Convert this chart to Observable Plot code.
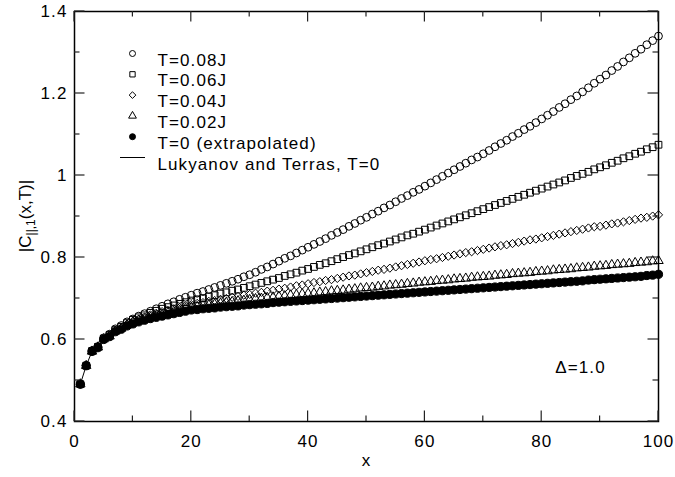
<!DOCTYPE html>
<html>
<head>
<meta charset="utf-8">
<script src="https://cdn.jsdelivr.net/npm/d3@7"></script>
<script src="https://cdn.jsdelivr.net/npm/@observablehq/plot@0.6"></script>
<style>
  html, body { margin: 0; padding: 0; background: white; }
</style>
</head>
<body>
<div id="chart"></div>
<script>
// sample positions x = 1..100
const xValues = Array.from({length: 100}, (_, i) => i + 1);

const valuesT008 = [
  0.491,0.537,0.573,0.583,0.604,0.613,0.626,0.634,0.643,0.650,
  0.657,0.663,0.669,0.675,0.681,0.687,0.692,0.698,0.703,0.708,
  0.713,0.717,0.722,0.727,0.732,0.737,0.742,0.747,0.753,0.758,
  0.764,0.771,0.777,0.784,0.791,0.798,0.804,0.811,0.818,0.825,
  0.832,0.839,0.846,0.854,0.861,0.868,0.876,0.883,0.891,0.898,
  0.906,0.913,0.921,0.928,0.936,0.944,0.951,0.959,0.966,0.974,
  0.982,0.990,0.998,1.006,1.014,1.022,1.030,1.038,1.045,1.053,
  1.061,1.070,1.078,1.086,1.095,1.103,1.112,1.120,1.129,1.138,
  1.147,1.156,1.166,1.175,1.185,1.194,1.204,1.214,1.225,1.235,
  1.245,1.256,1.266,1.277,1.287,1.298,1.308,1.319,1.329,1.340
];
const valuesT006 = [
  0.491,0.536,0.572,0.582,0.602,0.611,0.623,0.631,0.640,0.648,
  0.654,0.659,0.665,0.670,0.675,0.679,0.683,0.687,0.691,0.695,
  0.698,0.701,0.705,0.708,0.712,0.715,0.719,0.722,0.726,0.730,
  0.734,0.738,0.742,0.746,0.750,0.755,0.759,0.763,0.768,0.772,
  0.777,0.782,0.786,0.791,0.796,0.801,0.806,0.810,0.815,0.820,
  0.825,0.830,0.834,0.839,0.844,0.849,0.854,0.858,0.863,0.868,
  0.873,0.878,0.883,0.888,0.893,0.898,0.903,0.908,0.913,0.918,
  0.923,0.928,0.933,0.938,0.943,0.948,0.953,0.958,0.963,0.968,
  0.973,0.978,0.983,0.988,0.994,0.999,1.004,1.009,1.015,1.020,
  1.025,1.031,1.036,1.042,1.047,1.053,1.058,1.064,1.069,1.075
];
const valuesT004 = [
  0.491,0.536,0.571,0.581,0.601,0.609,0.621,0.628,0.637,0.645,
  0.650,0.655,0.660,0.664,0.668,0.671,0.675,0.678,0.682,0.685,
  0.688,0.690,0.693,0.695,0.698,0.700,0.703,0.705,0.708,0.710,
  0.713,0.715,0.718,0.720,0.723,0.725,0.728,0.731,0.733,0.736,
  0.739,0.741,0.744,0.746,0.749,0.752,0.755,0.757,0.760,0.763,
  0.766,0.769,0.771,0.774,0.777,0.780,0.783,0.786,0.789,0.792,
  0.795,0.797,0.800,0.803,0.806,0.809,0.812,0.814,0.817,0.820,
  0.823,0.826,0.829,0.831,0.834,0.837,0.840,0.843,0.845,0.848,
  0.851,0.854,0.857,0.860,0.863,0.866,0.869,0.872,0.875,0.876,
  0.879,0.882,0.884,0.887,0.890,0.893,0.896,0.898,0.901,0.904
];
const valuesT002 = [
  0.491,0.536,0.571,0.581,0.601,0.608,0.620,0.627,0.635,0.641,
  0.646,0.650,0.654,0.658,0.661,0.665,0.668,0.671,0.675,0.678,
  0.680,0.682,0.684,0.686,0.688,0.690,0.692,0.694,0.695,0.697,
  0.699,0.700,0.702,0.703,0.705,0.706,0.708,0.709,0.711,0.712,
  0.713,0.715,0.716,0.718,0.719,0.720,0.722,0.723,0.725,0.726,
  0.727,0.729,0.730,0.732,0.733,0.734,0.736,0.737,0.739,0.740,
  0.741,0.743,0.744,0.745,0.747,0.748,0.749,0.751,0.752,0.753,
  0.754,0.756,0.757,0.758,0.760,0.761,0.762,0.763,0.765,0.766,
  0.767,0.769,0.770,0.771,0.772,0.774,0.775,0.776,0.778,0.779,
  0.780,0.782,0.783,0.784,0.785,0.787,0.788,0.789,0.791,0.792
];
const valuesT0 = [
  0.491,0.536,0.571,0.580,0.600,0.607,0.619,0.625,0.633,0.638,
  0.643,0.647,0.651,0.654,0.657,0.660,0.663,0.666,0.669,0.672,
  0.673,0.675,0.676,0.677,0.679,0.680,0.681,0.682,0.684,0.685,
  0.686,0.687,0.688,0.690,0.691,0.692,0.693,0.694,0.695,0.696,
  0.697,0.698,0.699,0.700,0.701,0.702,0.703,0.704,0.705,0.706,
  0.707,0.708,0.709,0.710,0.711,0.712,0.713,0.714,0.715,0.716,
  0.717,0.718,0.719,0.720,0.721,0.722,0.723,0.724,0.725,0.726,
  0.727,0.728,0.729,0.730,0.731,0.732,0.733,0.734,0.735,0.736,
  0.737,0.738,0.739,0.740,0.741,0.742,0.743,0.745,0.746,0.747,
  0.748,0.749,0.750,0.751,0.752,0.753,0.754,0.756,0.757,0.759
];
const valuesLukyanov = [
  0.491,0.536,0.571,0.580,0.600,0.607,0.619,0.625,0.633,0.638,
  0.643,0.647,0.651,0.654,0.657,0.660,0.663,0.666,0.669,0.672,
  0.673,0.675,0.676,0.677,0.679,0.680,0.681,0.682,0.684,0.685,
  0.686,0.687,0.688,0.690,0.691,0.692,0.693,0.694,0.695,0.695,
  0.696,0.697,0.698,0.699,0.700,0.700,0.701,0.702,0.703,0.704,
  0.705,0.706,0.706,0.707,0.708,0.709,0.710,0.711,0.711,0.712,
  0.713,0.714,0.715,0.716,0.716,0.717,0.718,0.719,0.720,0.721,
  0.721,0.722,0.723,0.724,0.725,0.726,0.726,0.727,0.728,0.729,
  0.730,0.731,0.732,0.733,0.734,0.735,0.736,0.737,0.738,0.739,
  0.740,0.741,0.742,0.744,0.745,0.746,0.747,0.749,0.750,0.752
];

const xMajorTicks = [0, 20, 40, 60, 80, 100];
const xMinorTicks = [10, 30, 50, 70, 90];
const yMajorTicks = [0.4, 0.6, 0.8, 1, 1.2, 1.4];
const yMinorTicks = [0.5, 0.7, 0.9, 1.1, 1.3];

const legendLabels = ["T=0.08J", "T=0.06J", "T=0.04J", "T=0.02J", "T=0 (extrapolated)", "Lukyanov and Terras, T=0"];
const xLabel = "x";
const annotation = "Δ=1.0";

const toRows = vals => vals.map((v, i) => ({x: xValues[i], y: v}));

const lineSymbol = {draw(ctx) { ctx.moveTo(-12.5, 0); ctx.lineTo(12.5, 0); }};

const markerSpecs = [
  {vals: valuesT008, symbol: "circle", r: 3.9, fill: "none"},
  {vals: valuesT006, symbol: "square", r: 3.8, fill: "none"},
  {vals: valuesT004, symbol: "diamond2", r: 3.7, fill: "none"},
  {vals: valuesT002, symbol: "triangle", r: 3.5, fill: "none"},
  {vals: valuesT0, symbol: "circle", r: 4.1, fill: "black"}
];
const legendSymbols = [
  {symbol: "circle", r: 3, fill: "none"},
  {symbol: "square", r: 3, fill: "none"},
  {symbol: "diamond2", r: 3, fill: "none"},
  {symbol: "triangle", r: 2.9, fill: "none"},
  {symbol: "circle", r: 3, fill: "black"},
  {symbol: lineSymbol, r: 3, fill: "none"}
];

const legendMarks = [];
legendLabels.forEach((label, i) => {
  const s = legendSymbols[i];
  legendMarks.push(Plot.dot([label], {frameAnchor: "top-left", dx: 58, dy: 42 + i * 20.8, symbol: s.symbol, r: s.r, fill: s.fill, stroke: "black", strokeWidth: 1}));
  legendMarks.push(Plot.text([label], {frameAnchor: "top-left", dx: 83, dy: 42 + i * 20.8, text: d => d, textAnchor: "start", fill: "black"}));
});

const chart = Plot.plot({
  width: 675,
  height: 477,
  marginLeft: 74,
  marginRight: 17,
  marginTop: 11,
  marginBottom: 56,
  x: {domain: [0, 100]},
  y: {domain: [0.4, 1.4]},
  style: {fontFamily: "'Liberation Sans', Arial, sans-serif", fontSize: "17px", letterSpacing: "1.1px", color: "black", background: "white"},
  marks: [
    Plot.line(toRows(valuesLukyanov), {x: "x", y: "y", stroke: "black", strokeWidth: 1}),
    ...markerSpecs.map(s => Plot.dot(toRows(s.vals), {x: "x", y: "y", symbol: s.symbol, r: s.r, fill: s.fill, stroke: "black", strokeWidth: 1})),
    Plot.axisX(xMajorTicks, {anchor: "bottom", tickSize: 0, tickPadding: 13, tickFormat: d => String(d), label: null, fill: "black"}),
    Plot.axisY(yMajorTicks, {anchor: "left", tickSize: 0, tickPadding: 7, tickFormat: d => String(d), label: null, fill: "black"}),
    Plot.frame({stroke: "black", strokeWidth: 1.5}),
    Plot.text([xLabel], {frameAnchor: "bottom", dy: 44, text: d => d, fill: "black"}),
    Plot.text([annotation], {frameAnchor: "bottom-right", dx: -78, dy: -49, text: d => d, textAnchor: "middle", fill: "black"}),
    ...legendMarks
  ]
});

const svg = d3.select(chart);
const sx = chart.scale("x"), sy = chart.scale("y");
const [x0, x1] = sx.range, [y0, y1] = sy.range; // y0 = bottom, y1 = top

// inward ticks on all four sides, placed through Plot's own scales
const tickG = svg.append("g").attr("stroke", "#222").attr("stroke-width", 1.2);
const majorLen = 10.5, minorLen = 5.5;
for (const [ticks, len] of [[xMajorTicks, majorLen], [xMinorTicks, minorLen]]) {
  for (const t of ticks) {
    const px = sx.apply(t);
    tickG.append("line").attr("x1", px).attr("x2", px).attr("y1", y0).attr("y2", y0 - len);
    tickG.append("line").attr("x1", px).attr("x2", px).attr("y1", y1).attr("y2", y1 + len);
  }
}
for (const [ticks, len] of [[yMajorTicks, majorLen], [yMinorTicks, minorLen]]) {
  for (const t of ticks) {
    const py = sy.apply(t);
    tickG.append("line").attr("y1", py).attr("y2", py).attr("x1", x0).attr("x2", x0 + len);
    tickG.append("line").attr("y1", py).attr("y2", py).attr("x1", x1).attr("x2", x1 - len);
  }
}

// y-axis title with subscript
const yTitle = svg.append("text")
  .attr("transform", "translate(31,216) rotate(-90)")
  .attr("text-anchor", "middle")
  .attr("fill", "black")
  .style("font-size", "17px")
  .style("letter-spacing", "0px");
yTitle.append("tspan").text("|C");
yTitle.append("tspan").attr("dy", 4).style("font-size", "12px").text("||,1");
yTitle.append("tspan").attr("dy", -4).text("(x,T)|");

document.getElementById("chart").appendChild(chart);
</script>
</body>
</html>
